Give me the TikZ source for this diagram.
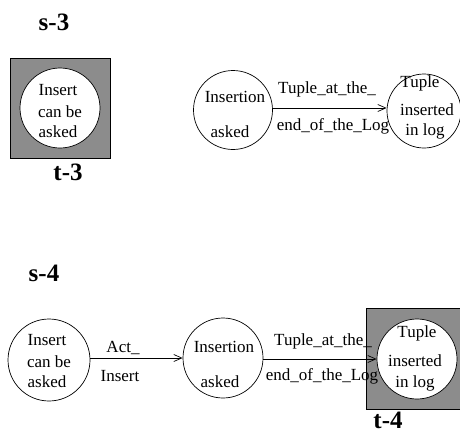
\documentclass[tikz,border=0pt]{standalone}
\usepackage{fontspec}
\setmainfont{Liberation Serif}
\usetikzlibrary{arrows.meta}
\definecolor{boxgray}{RGB}{140,140,140}
\tikzset{
  state/.style={circle, draw=black, fill=white, line width=0.7pt, inner sep=0pt},
  graybox/.style={draw=black, fill=boxgray, line width=0.7pt},
  txt/.style={anchor=base, inner sep=0pt, font=\fontsize{17}{19}\selectfont},
  big/.style={anchor=base, inner sep=0pt, font=\fontsize{25}{27}\selectfont\bfseries},
  trans/.style={line width=0.7pt, -{Straight Barb[length=8pt,width=7pt]}}
}
\begin{document}
\begin{tikzpicture}[x=1pt,y=-1pt]
\useasboundingbox (0,0) rectangle (460,432);
\begin{scope}
\clip (0,0) rectangle (460,432);
% ---- s-3 ----
\node[big] (s3) at (54,30) {s-3};
\filldraw[graybox] (10,58) rectangle (110,158);
\node[state, minimum size=80pt] (a1) at (60,108) {};
\node[txt] (a1l1) at (58,95) {Insert};
\node[txt] (a1l2) at (60,117) {can be};
\node[txt] (a1l3) at (58,137) {asked};
\node[big] (t3) at (68,180) {t-3};

\node[state, minimum size=79pt] (b1) at (233,110) {};
\node[txt] (b1l1) at (235,102) {Insertion};
\node[txt] (b1l2) at (230,137) {asked};
\node[state, minimum size=74pt] (c1) at (424,111) {};
\node[txt] (c1l1) at (420,87) {Tuple};
\node[txt] (c1l2) at (427,115) {inserted};
\node[txt] (c1l3) at (425,135) {in log};
\draw[trans] (b1.east |- 0,108) -- (c1.west |- 0,108);
\node[txt] (e1a) at (327,93) {Tuple\_at\_the\_};
\node[txt] (e1b) at (333,130) {end\_of\_the\_Log};

% ---- s-4 ----
\node[big] (s4) at (44,281) {s-4};
\node[state, minimum size=82pt] (a2) at (49,360) {};
\node[txt] (a2l1) at (47,345) {Insert};
\node[txt] (a2l2) at (49,367) {can be};
\node[txt] (a2l3) at (47,387) {asked};
\node[state, minimum size=80pt] (b2) at (223,358) {};
\node[txt] (b2l1) at (224,352) {Insertion};
\node[txt] (b2l2) at (220,387) {asked};
\filldraw[graybox] (366,308) rectangle (466,409);
\node[state, minimum size=80pt] (c2) at (417,359) {};
\node[txt] (c2l1) at (417,337) {Tuple};
\node[txt] (c2l2) at (415,366) {inserted};
\node[txt] (c2l3) at (415,387) {in log};
\node[big] (t4) at (388,428) {t-4};

\draw[trans] (a2.east |- 0,358) -- (b2.west |- 0,358);
\node[txt] (e2a) at (123,352) {Act\_};
\node[txt] (e2b) at (120,381) {Insert};
\draw[trans] (b2.east |- 0,359) -- (c2.west |- 0,359);
\node[txt] (e3a) at (323,345) {Tuple\_at\_the\_};
\node[txt] (e3b) at (322,380) {end\_of\_the\_Log};
\end{scope}
\end{tikzpicture}
\end{document}
